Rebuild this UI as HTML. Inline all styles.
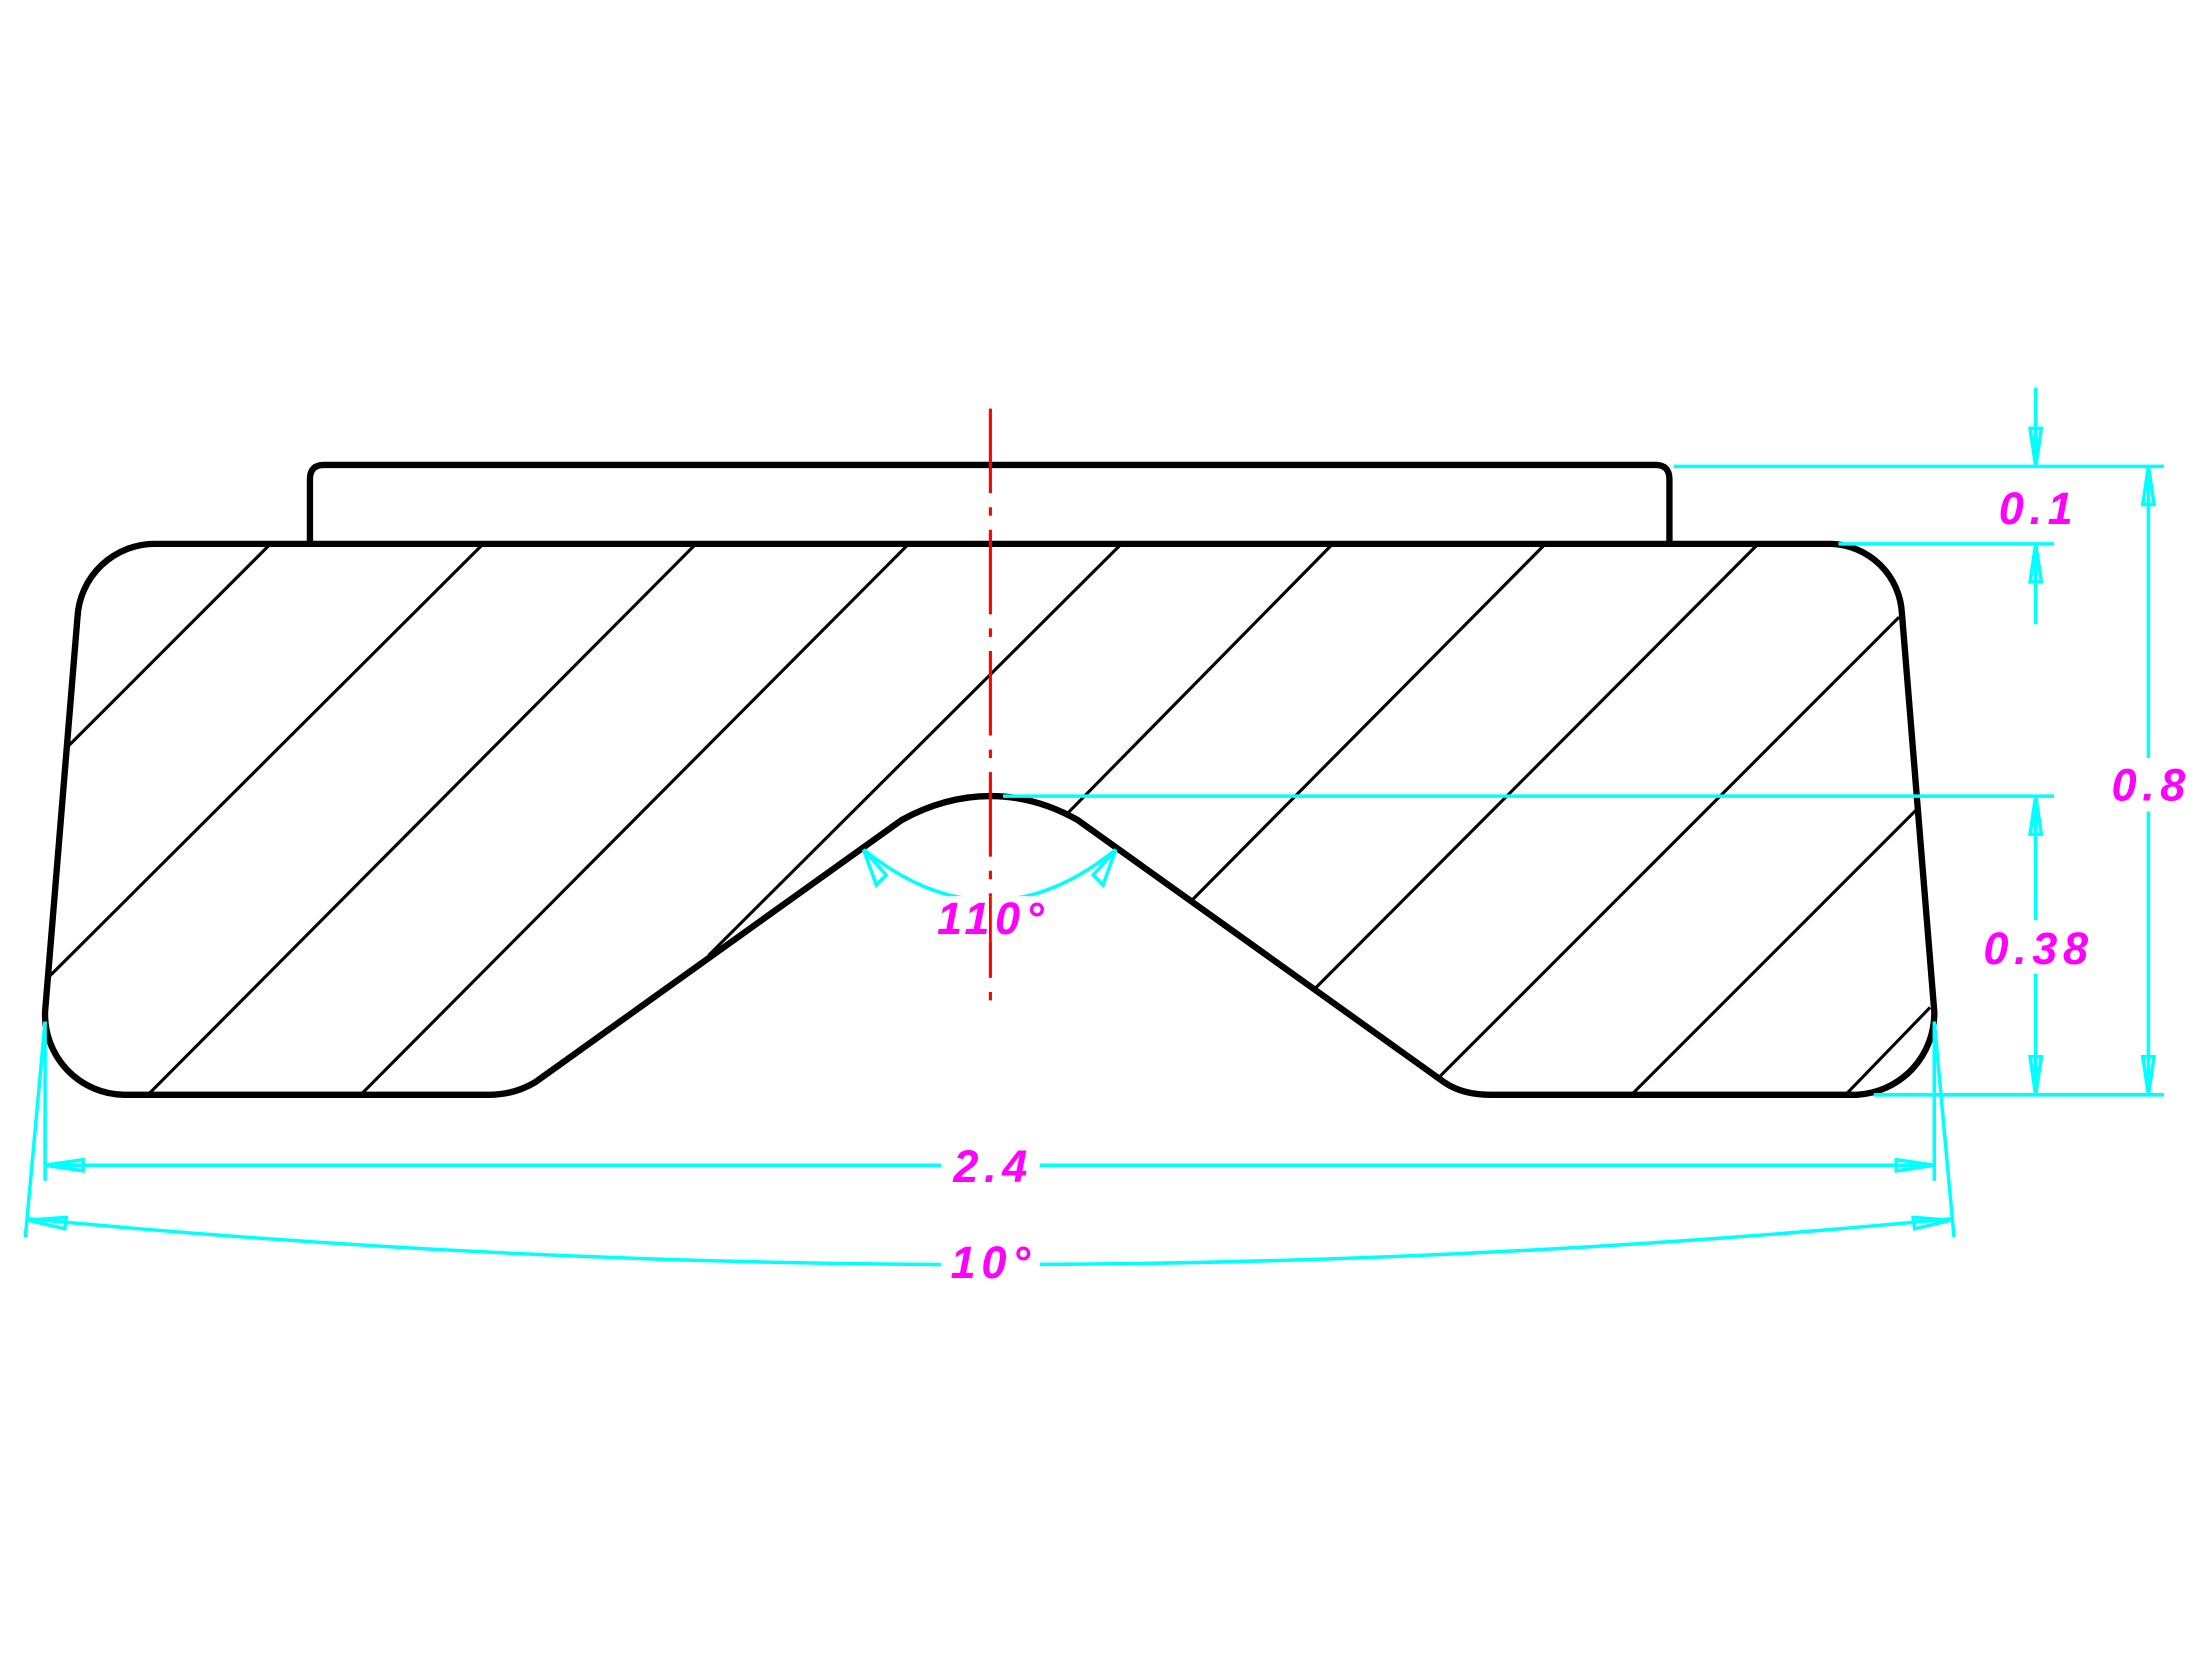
<!DOCTYPE html>
<html><head><meta charset="utf-8"><style>html,body{margin:0;padding:0;background:#fff}svg{display:block}</style></head><body>
<svg width="2209" height="1657" viewBox="0 0 1568 1176" preserveAspectRatio="none" xmlns="http://www.w3.org/2000/svg">
<rect width="1568" height="1176" fill="#fff"/>
<g fill="none" stroke="#000" stroke-width="4.5" stroke-linejoin="round">
<path d="M220,385 L220,340 Q220,330 230,330 L1175,330 Q1185,330 1185,340 L1185,385"/>
<path d="M110,386 L1300,386 A52,52 0 0 1 1350,435 L1373,718 A58,58 0 0 1 1318,777 L1058,777 Q1038,777 1025,768 L765,582 Q735,565 703,565 Q671,565 640,582 L380,768 Q365,777 347,777 L88,777 A57,57 0 0 1 32,718 L55,438 A55,55 0 0 1 110,386 Z"/>
</g>
<g stroke="#000" stroke-width="2.2">
<line x1="48" y1="530" x2="192" y2="386"/>
<line x1="33" y1="695" x2="343" y2="386"/>
<line x1="105" y1="777" x2="494" y2="386"/>
<line x1="256" y1="777" x2="645" y2="386"/>
<line x1="503" y1="678" x2="796" y2="386"/>
<line x1="757" y1="578" x2="946" y2="386"/>
<line x1="845" y1="640" x2="1097" y2="386"/>
<line x1="933" y1="702" x2="1248" y2="386"/>
<line x1="1022" y1="764" x2="1348" y2="438"/>
<line x1="1158" y1="777" x2="1360" y2="575"/>
<line x1="1310" y1="777" x2="1370" y2="715"/>
</g>
<line x1="703" y1="290" x2="703" y2="718" stroke="#f00" stroke-width="2.2" stroke-dasharray="60,10,6,10"/>
<g stroke="#0ff" stroke-width="2.5" fill="none">
<line x1="1188" y1="331" x2="1536" y2="331"/>
<line x1="1305" y1="386" x2="1458" y2="386"/>
<line x1="712" y1="565" x2="1458" y2="565"/>
<line x1="1330" y1="777" x2="1536" y2="777"/>
<line x1="1445" y1="275" x2="1445" y2="331"/>
<line x1="1445" y1="386" x2="1445" y2="443"/>
<line x1="1445" y1="565" x2="1445" y2="777"/>
<line x1="1525" y1="331" x2="1525" y2="777"/>
<line x1="32" y1="725" x2="32" y2="838"/>
<line x1="1373" y1="725" x2="1373" y2="838"/>
<line x1="32" y1="827" x2="1373" y2="827"/>
<line x1="32" y1="725" x2="18" y2="878"/>
<line x1="1373" y1="725" x2="1387" y2="878"/>
<path d="M20,865 Q703,930 1385,865"/>
<path d="M613,603 Q703,675 792,603"/>
<polygon points="1445,331 1441,304 1449,304"/>
<polygon points="1445,386 1441,413 1449,413"/>
<polygon points="1445,565 1441,592 1449,592"/>
<polygon points="1445,777 1441,750 1449,750"/>
<polygon points="1525,331 1521,358 1529,358"/>
<polygon points="1525,777 1521,750 1529,750"/>
<polygon points="32,827 59,823 59,831"/>
<polygon points="1373,827 1346,823 1346,831"/>
<polygon points="20,866 47,864 46,872"/>
<polygon points="1385,866 1358,864 1359,872"/>
<polygon points="613,603 622,628 629,621"/>
<polygon points="792,603 776,621 783,628"/>
</g>
<g fill="#f0f" font-family="Liberation Sans, sans-serif" font-style="italic" font-weight="bold" font-size="32" letter-spacing="4" text-anchor="middle">
<rect x="1415" y="342" width="60" height="36" fill="#fff"/>
<text x="1447" y="372">0.1</text>
<rect x="1400" y="653" width="90" height="38" fill="#fff"/>
<text x="1447" y="684">0.38</text>
<rect x="1495" y="538" width="65" height="38" fill="#fff"/>
<text x="1527" y="568">0.8</text>
<rect x="668" y="812" width="70" height="32" fill="#fff"/>
<text x="705" y="839">2.4</text>
<rect x="668" y="880" width="70" height="32" fill="#fff"/>
<text x="705" y="907">10°</text>
<rect x="664" y="636" width="78" height="32" fill="#fff"/>
<line x1="703" y1="636" x2="703" y2="668" stroke="#f00" stroke-width="2"/>
<text x="705" y="663">110°</text>
</g>
</svg>
</body></html>
